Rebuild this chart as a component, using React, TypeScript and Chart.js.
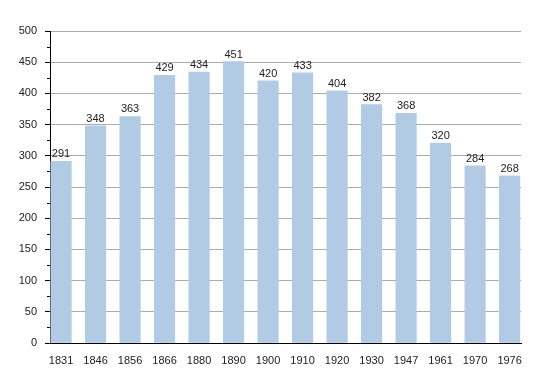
import React, { useEffect, useRef } from "react";
import { Chart, registerables } from "chart.js";

Chart.register(...registerables);

const years: string[] = ["1831", "1846", "1856", "1866", "1880", "1890", "1900", "1910", "1920", "1930", "1947", "1961", "1970", "1976"];
const population: number[] = [291, 348, 363, 429, 434, 451, 420, 433, 404, 382, 368, 320, 284, 268];
const yMin = 0;
const yMax = 500;
const yStep = 25;
const yLabelStep = 50;

const FONT = "'Liberation Sans', Arial, Helvetica, sans-serif";

const valueLabels = {
  id: "valueLabels",
  afterDatasetsDraw(chart: any) {
    const ctx = chart.ctx;
    const meta = chart.getDatasetMeta(0);
    ctx.save();
    ctx.font = `11px ${FONT}`;
    ctx.fillStyle = "#222";
    ctx.textAlign = "center";
    ctx.textBaseline = "alphabetic";
    meta.data.forEach((el: any, i: number) => {
      ctx.fillText(String(population[i]), el.x, el.y - 4);
    });
    ctx.restore();
  },
};

const minorTicks = {
  id: "minorTicks",
  afterDraw(chart: any) {
    const y = chart.scales.y;
    const ctx = chart.ctx;
    const x0 = Math.round(chart.chartArea.left);
    ctx.save();
    ctx.strokeStyle = "#000";
    ctx.lineWidth = 1;
    ctx.beginPath();
    for (let v = yMin + yStep; v < yMax; v += yStep) {
      if (v % yLabelStep === 0) continue;
      const py = Math.round(y.getPixelForValue(v)) + 0.5;
      ctx.moveTo(x0 - 3, py);
      ctx.lineTo(x0, py);
    }
    ctx.stroke();
    ctx.restore();
  },
};

export default function App() {
  const ref = useRef<HTMLCanvasElement | null>(null);

  useEffect(() => {
    if (!ref.current) return;
    const chart = new Chart(ref.current, {
      type: "bar",
      data: {
        datasets: [
          {
            data: population.map((v, i) => ({ x: i, y: v })),
            backgroundColor: "#b1cbe5",
            borderWidth: 0,
            barThickness: 20.5,
          },
        ],
      },
      options: {
        responsive: false,
        animation: false,
        events: [],
        layout: { padding: { top: 31, right: 29, bottom: 0, left: 0 } },
        plugins: {
          legend: { display: false },
          tooltip: { enabled: false },
          title: { display: false },
        },
        scales: {
          x: {
            type: "linear",
            offset: false,
            min: -0.32,
            max: 13.33,
            grid: { display: false, offset: false },
            border: { display: true, color: "#000", width: 1 },
            ticks: {
              stepSize: 1,
              includeBounds: false,
              autoSkip: false,
              maxRotation: 0,
              padding: 3,
              color: "#222",
              font: { family: FONT, size: 11 },
              callback: (v: any) => {
                const i = Math.round(Number(v));
                return Number.isInteger(Number(v)) && years[i] ? years[i] : "";
              },
            },
            afterFit: (s: any) => {
              s.height = 30;
            },
          },
          y: {
            min: yMin,
            max: yMax,
            border: { display: true, color: "#000", width: 1 },
            grid: {
              color: (c: any) => (c.tick && c.tick.value % yLabelStep === 0 ? "#ababab" : "#e2e2e2"),
              tickColor: (c: any) => (c.tick && c.tick.value % yLabelStep === 0 ? "#000" : "rgba(0,0,0,0)"),
              tickLength: 5,
              lineWidth: 1,
            },
            ticks: {
              stepSize: yStep,
              padding: 8,
              color: "#222",
              font: { family: FONT, size: 11 },
              callback: (v: any) => (Number(v) % yLabelStep === 0 ? String(v) : ""),
            },
            afterFit: (s: any) => {
              s.width = 50;
            },
          },
        },
      },
      plugins: [valueLabels, minorTicks],
    });
    return () => chart.destroy();
  }, []);

  return (
    <div style={{ position: "absolute", left: 0, top: 0, width: 550, height: 373, background: "#fff" }}>
      <canvas ref={ref} width={550} height={373} style={{ display: "block" }} />
    </div>
  );
}
